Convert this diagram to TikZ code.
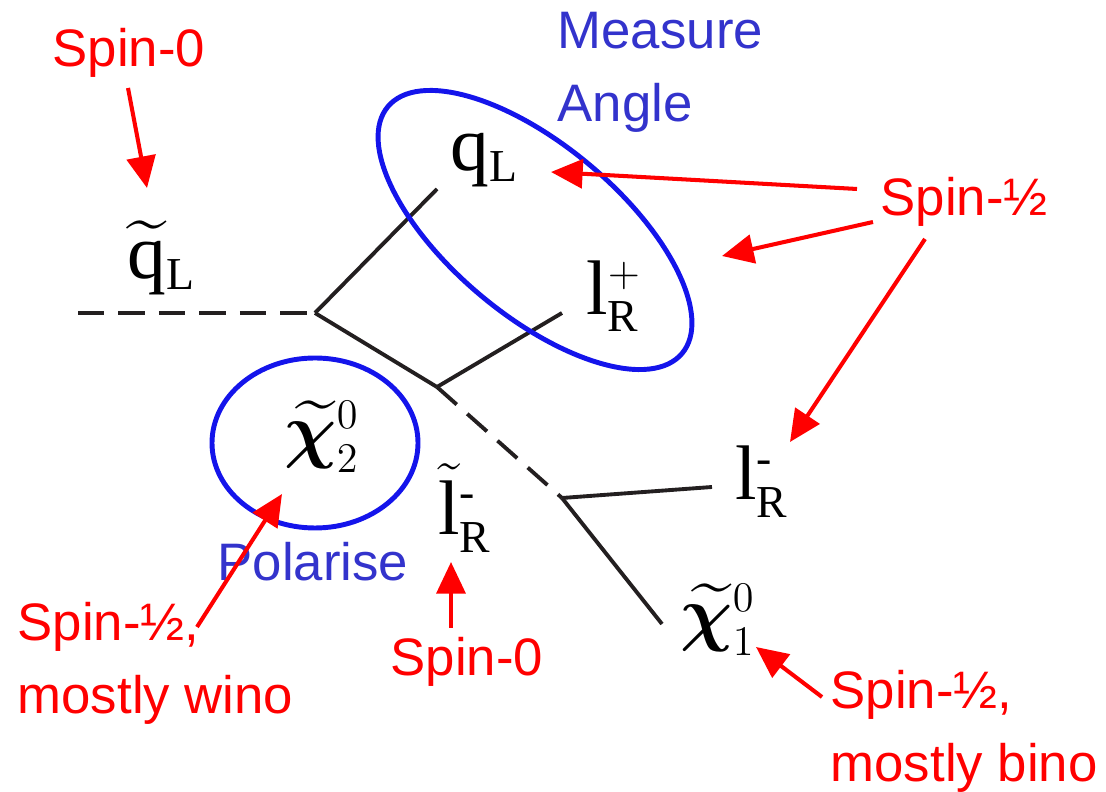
\documentclass[tikz,border=0pt]{standalone}
\usepackage{amsmath}
\usepackage{fontspec}
\usepackage{bm}
\setmainfont{Liberation Serif}
\newfontfamily\notefont{Liberation Sans}
\DeclareMathSizes{22}{22}{13}{10}
\usetikzlibrary{arrows.meta}
\definecolor{ringblue}{RGB}{20,20,235}
\definecolor{noteblue}{RGB}{51,51,204}
\definecolor{inkblack}{RGB}{35,31,32}

\begin{document}
\begin{tikzpicture}[x=0.01cm,y=-0.01cm,
		fermion/.style={line width=1.1pt,inkblack},
		scalar/.style={fermion,dash pattern=on 7.5pt off 4pt},
		spin/.style={red,line width=1.15pt,-{Triangle[length=9pt,width=8.2pt]}},
		ring/.style={ringblue,line width=1.4pt},
		part/.style={inner sep=0pt,font=\fontsize{22}{26}\selectfont},
		note/.style={inner sep=0pt,anchor=north west,align=left,font=\notefont\fontsize{15}{20.7}\selectfont}]
	\useasboundingbox (0,0) rectangle (1106,792);
	
	% decay chain
	\coordinate (in) at (78,313);
	\coordinate (v1) at (315,313);
	\coordinate (v2) at (437,387);
	\coordinate (v3) at (562,498);
	\coordinate (qend) at (437,189);
	\coordinate (lpend) at (562,313);
	\coordinate (lmend) at (712,487);
	\coordinate (chiend) at (662,624);
	
	\draw[scalar] (in) -- (v1);
	\draw[fermion] (v1) -- (qend);
	\draw[fermion] (v1) -- (v2);
	\draw[fermion] (v2) -- (lpend);
	\draw[scalar] (v2) -- (v3);
	\draw[fermion] (v3) -- (lmend);
	\draw[fermion] (v3) -- (chiend);
	
	\node[part] (sq) at (162,258) {$\widetilde{\mathrm{q}}_{\mathrm{L}}$};
	\node[part] (q) at (485,160) {$\mathrm{q}_{\mathrm{L}}$};
	\node[part] (lp) at (614,296) {$\mathrm{l}^{+}_{\mathrm{R}}$};
	\node[part] (chi2) at (322,437) {$\widetilde{\bm{\chi}}{}^{0}_{2}$};
	\node[part] (slep) at (465,508) {$\tilde{\mathrm{l}}^{\text{-}}_{\mathrm{R}}$};
	\node[part] (lm) at (762,482) {$\mathrm{l}^{\text{-}}_{\mathrm{R}}$};
	\node[part] (chi1) at (718,620) {$\widetilde{\bm{\chi}}{}^{0}_{1}$};
	
	% rings
	\draw[ring,rotate around={-40:(535,230)}] (535,230) ellipse [x radius=192,y radius=85];
	\draw[ring] (315,443) ellipse [x radius=103,y radius=85];
	
	% notes
	\node[note,text=noteblue] (meas) at (557,12) {Measure\\Angle};
	\node[note,text=noteblue] (pol) at (217,542) {Polarise};
	\node[note,text=red] (s0a) at (52,28) {Spin-0};
	\node[note,text=red] (s0b) at (390,637) {Spin-0};
	\node[note,text=red] (shalf) at (880,177) {Spin-½};
	\node[note,text=red] (wino) at (17,602) {Spin-½,\\mostly wino};
	\node[note,text=red] (bino) at (830,670) {Spin-½,\\mostly bino};
	
	% arrows
	\coordinate (t1) at (128,88);   \coordinate (h1) at (147,188);
	\coordinate (t2) at (857,189);  \coordinate (h2) at (551,172);
	\coordinate (t3) at (873,222);  \coordinate (h3) at (722,256);
	\coordinate (t4) at (925,239);  \coordinate (h4) at (790,442);
	\coordinate (t5) at (451,628);  \coordinate (h5) at (451,562);
	\coordinate (t6) at (197,627);  \coordinate (h6) at (282,494);
	\coordinate (t7) at (822,697);  \coordinate (h7) at (756,647);
	
	\draw[spin] (t1) -- (h1);
	\draw[spin] (t2) -- (h2);
	\draw[spin] (t3) -- (h3);
	\draw[spin] (t4) -- (h4);
	\draw[spin] (t5) -- (h5);
	\draw[spin] (t6) -- (h6);
	\draw[spin] (t7) -- (h7);
\end{tikzpicture}
\end{document}
